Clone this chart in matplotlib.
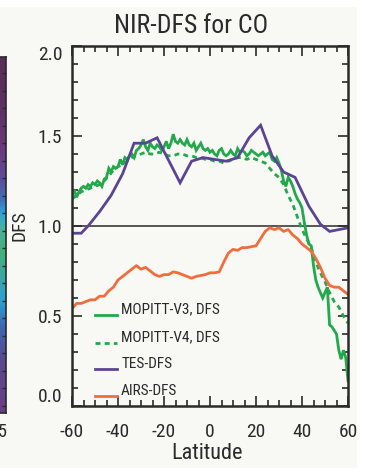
import numpy as np
import matplotlib
matplotlib.use("Agg")
import matplotlib.pyplot as plt
from matplotlib import font_manager
from matplotlib.colors import LinearSegmentedColormap
from matplotlib.patches import Rectangle
from matplotlib.transforms import Bbox, TransformedBbox
from matplotlib.ticker import MultipleLocator


def pick_narrow_font():
    """Prefer a narrow sans face; fall back to a regular one."""
    wanted = ["liberationsansnarrow", "robotocondensed", "dejavusanscondensed",
              "notosanscondensed", "opensanscondensed"]
    entries = font_manager.fontManager.ttflist
    for key in wanted:
        for e in entries:
            stem = e.fname.replace("\\", "/").split("/")[-1].lower().replace("-", "").replace("_", "")
            if stem.startswith(key) and e.weight in (400, "normal", "regular") and e.style == "normal":
                return e.name, e.stretch
    return "Roboto", "normal"


family, stretch = pick_narrow_font()
plt.rcParams["font.family"] = [family, "Roboto", "DejaVu Sans"]
plt.rcParams["font.stretch"] = stretch

# ---- data -------------------------------------------------------------
lat_1deg = np.arange(-60, 61, 1)
mopitt_v3 = [
    1.17, 1.20, 1.16, 1.19, 1.21, 1.22, 1.21, 1.23, 1.22, 1.24,
    1.23, 1.25, 1.24, 1.22, 1.26, 1.27, 1.32, 1.30, 1.33, 1.32,
    1.33, 1.37, 1.34, 1.38, 1.37, 1.39, 1.40, 1.38, 1.42, 1.43,
    1.45, 1.48, 1.44, 1.42, 1.46, 1.44, 1.43, 1.45, 1.44, 1.42,
    1.44, 1.47, 1.43, 1.46, 1.51, 1.47, 1.46, 1.48, 1.46, 1.45,
    1.48, 1.45, 1.44, 1.46, 1.42, 1.44, 1.46, 1.43, 1.42, 1.43,
    1.41, 1.42, 1.40, 1.39, 1.42, 1.43, 1.40, 1.39, 1.40, 1.42,
    1.40, 1.39, 1.43, 1.41, 1.42, 1.41, 1.39, 1.40, 1.42, 1.41,
    1.40, 1.39, 1.40, 1.41, 1.39, 1.40, 1.41, 1.37, 1.36, 1.38,
    1.35, 1.31, 1.25, 1.22, 1.27, 1.25, 1.22, 1.18, 1.15, 1.13,
    1.10, 1.02, 0.95, 0.90, 0.89, 0.78, 0.70, 0.66, 0.63, 0.60,
    0.63, 0.66, 0.45, 0.44, 0.42, 0.40, 0.31, 0.26, 0.31, 0.27,
    0.14,
]

lat_2deg = np.arange(-60, 61, 2)
mopitt_v4 = [
    1.15, 1.17, 1.19, 1.20, 1.21, 1.22, 1.23, 1.25, 1.28, 1.31,
    1.33, 1.34, 1.36, 1.38, 1.39, 1.40, 1.41, 1.40, 1.40, 1.41,
    1.40, 1.39, 1.39, 1.40, 1.40, 1.39, 1.39, 1.38, 1.38, 1.37,
    1.37, 1.36, 1.36, 1.35, 1.36, 1.37, 1.38, 1.38, 1.37, 1.38,
    1.37, 1.36, 1.35, 1.32, 1.29, 1.27, 1.23, 1.17, 1.12, 1.05,
    0.98, 0.93, 0.88, 0.80, 0.74, 0.69, 0.63, 0.58, 0.55, 0.50,
    0.46,
]
airs = [
    0.54, 0.57, 0.57, 0.58, 0.59, 0.59, 0.61, 0.61, 0.64, 0.66,
    0.70, 0.72, 0.74, 0.76, 0.78, 0.76, 0.77, 0.75, 0.73, 0.72,
    0.73, 0.73, 0.745, 0.74, 0.73, 0.72, 0.71, 0.72, 0.725, 0.73,
    0.74, 0.74, 0.745, 0.80, 0.85, 0.87, 0.865, 0.88, 0.88, 0.885,
    0.89, 0.93, 0.97, 0.99, 0.98, 0.99, 0.97, 0.98, 0.95, 0.93,
    0.90, 0.88, 0.86, 0.82, 0.77, 0.71, 0.67, 0.66, 0.66, 0.64,
    0.62,
]

tes_lat = [-60, -56, -53, -48, -43, -38, -33, -28, -23, -13, -8, -3,
           2, 7, 12, 17, 22, 27, 32, 37, 43, 48, 52, 60]
tes = [0.96, 0.96, 1.00, 1.08, 1.17, 1.29, 1.46, 1.46, 1.49, 1.24, 1.36, 1.38,
       1.37, 1.36, 1.38, 1.49, 1.56, 1.39, 1.30, 1.27, 1.11, 1.01, 0.97, 0.99]

x_ticks = [-60, -40, -20, 0, 20, 40, 60]
x_tick_labels = ["-60", "-40", "-20", "0", "20", "40", "60"]
y_ticks = [0.0, 0.5, 1.0, 1.5, 2.0]
y_tick_labels = ["0.0", "0.5", "1.0", "1.5", "2.0"]

series_labels = ["MOPITT-V3, DFS", "MOPITT-V4, DFS", "TES-DFS", "AIRS-DFS"]

# ---- style ------------------------------------------------------------
GREEN = "#22a94b"
PURPLE = "#5c4494"
ORANGE = "#f26d3d"
PAPER = "#f8f8f5"
INK = "#2a2a2a"
LW = 2.0
DASH = (0, (1.8, 1.5))

W, H = 370, 468
fig = plt.figure(figsize=(W / 100, H / 100), dpi=100)
fig.patch.set_facecolor("white")
fig.add_artist(Rectangle((0, 0), 357 / W, 461 / H, transform=fig.transFigure,
                         facecolor=PAPER, edgecolor="none", zorder=-5))

# sliver of the neighbouring map panel on the left edge
strip = fig.add_axes([0, 1 - 413 / H, 6 / W, (413 - 57) / H])
strip_cmap = LinearSegmentedColormap.from_list("map_edge", [
    (0.00, "#5b2d5a"), (0.13, "#5e2f60"), (0.26, "#6b3b7e"), (0.34, "#5e4a9a"),
    (0.40, "#3f6fb8"), (0.44, "#29a8dc"), (0.48, "#49b39d"), (0.55, "#45b07c"),
    (0.62, "#3aa7a5"), (0.69, "#2aa0d6"), (0.76, "#3e66b0"), (0.86, "#5a4890"),
    (1.00, "#6a3e88")])
strip.imshow(np.linspace(0, 1, 200).reshape(-1, 1), aspect="auto", cmap=strip_cmap,
             extent=[0, 1, 356, 0])
strip.set_xlim(0, 1)
strip.set_ylim(356, 0)
strip.set_xticks([])
strip.yaxis.tick_right()
strip.set_yticks(np.arange(16, 356, 17.5))
strip.tick_params(axis="y", direction="in", length=3, width=1, color=INK,
                  labelright=False)
for s in strip.spines.values():
    s.set_color(INK)
    s.set_linewidth(1.2)
strip.spines["left"].set_visible(False)

cut = fig.text(-2 / W, 1 - 432 / H, "50", fontsize=13, color=INK,
               ha="left", va="center")
cut.set_clip_box(TransformedBbox(Bbox([[0, 0], [7 / W, 1]]), fig.transFigure))

# ---- main panel -------------------------------------------------------
ax = fig.add_axes([72 / W, 1 - 406 / H, (348 - 72) / W, (406 - 46) / H])
ax.set_facecolor(PAPER)

ax.axhline(1.0, color=INK, lw=1.1, zorder=1.5)
ax.plot(lat_1deg, mopitt_v3, color=GREEN, lw=LW, zorder=2, solid_joinstyle="miter")
ax.plot(lat_2deg, mopitt_v4, color=GREEN, lw=LW, ls=DASH, zorder=2.1)
ax.plot(tes_lat, tes, color=PURPLE, lw=LW, zorder=2.2, solid_joinstyle="miter")
ax.plot(lat_2deg, airs, color=ORANGE, lw=LW, zorder=2.3)

ax.set_xlim(-60, 60)
ax.set_ylim(0, 2)
ax.set_xticks(x_ticks)
ax.set_xticklabels(x_tick_labels)
ax.set_yticks(y_ticks)
ax.set_yticklabels(y_tick_labels)
ax.xaxis.set_minor_locator(MultipleLocator(5))
ax.yaxis.set_minor_locator(MultipleLocator(0.1))
ax.tick_params(which="both", direction="in", top=True, right=True, color=INK, width=1.2)
ax.tick_params(which="major", length=7)
ax.tick_params(which="minor", length=4)
ax.tick_params(axis="x", which="major", pad=12, labelsize=14, labelcolor=INK)
ax.tick_params(axis="y", which="major", pad=7, labelsize=14, labelcolor=INK)
yt = ax.yaxis.get_major_ticks()
yt[0].label1.set_verticalalignment("bottom")
yt[-1].label1.set_verticalalignment("top")
for s in ax.spines.values():
    s.set_color(INK)
    s.set_linewidth(1.8)

ax.set_xlabel("Latitude", fontsize=16, color=INK)
ax.xaxis.set_label_coords(0.49, -0.103)
ax.set_ylabel("DFS", fontsize=14, color=INK)
ax.yaxis.set_label_coords(-0.156, 0.5)
ax.set_title("NIR-DFS for CO", fontsize=18.5, color=INK, x=0.431, pad=9.4)

# legend, IDL style: short sample line to the left of each label
legend_styles = [dict(color=GREEN, ls="-"), dict(color=GREEN, ls=DASH),
                 dict(color=PURPLE, ls="-"), dict(color=ORANGE, ls="-")]
line_y = [0.253, 0.175, 0.103, 0.028]
for lab, st, yy in zip(series_labels, legend_styles, line_y):
    ax.plot([0.083, 0.163], [yy, yy], transform=ax.transAxes, lw=LW, zorder=3,
            clip_on=False, **st)
    ax.text(0.178, yy + 0.015, lab, transform=ax.transAxes, fontsize=11,
            color=INK, ha="left", va="center")

fig.savefig("out.png", dpi=100, facecolor=fig.get_facecolor())
